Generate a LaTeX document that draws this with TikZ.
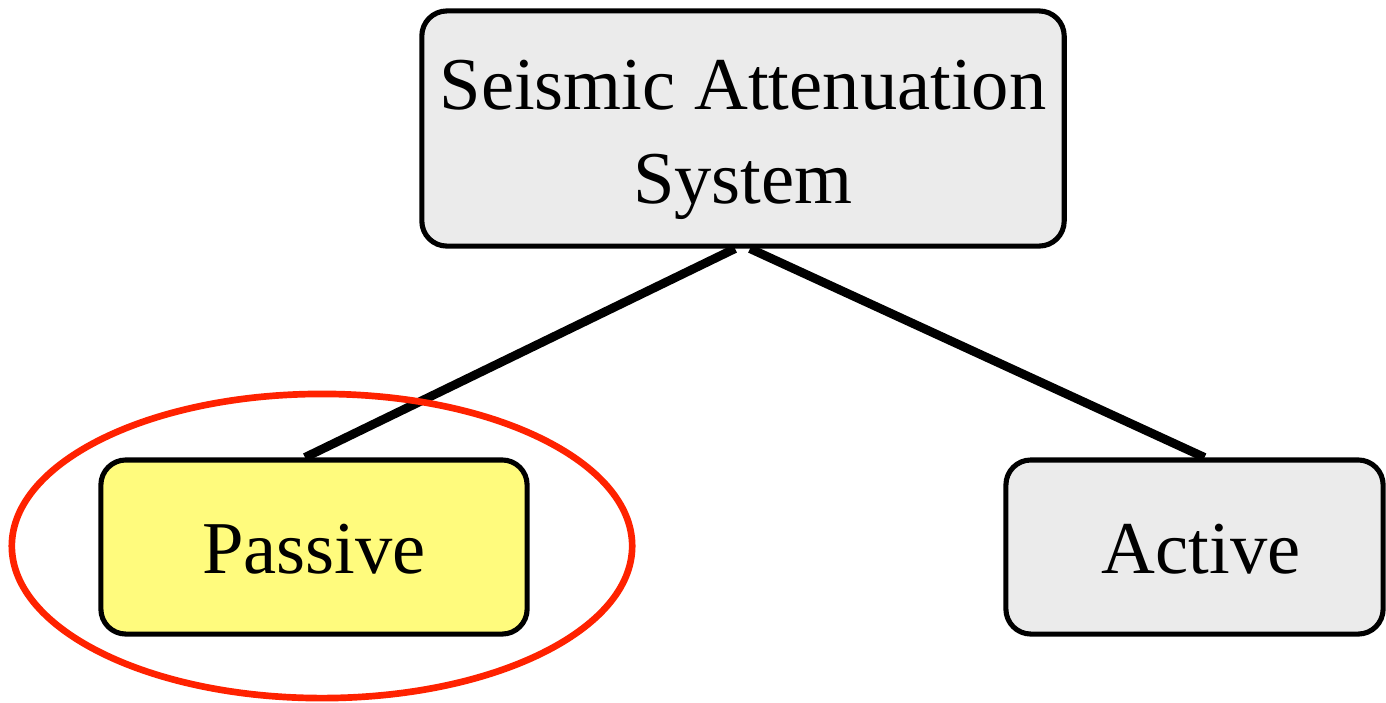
\documentclass[tikz,border=0pt]{standalone}
\usepackage{fontspec}
\setmainfont{Liberation Serif}
\usetikzlibrary{shapes.geometric}
\definecolor{boxgray}{HTML}{EBEBEB}
\definecolor{boxyellow}{HTML}{FFFB7D}
\definecolor{ringred}{HTML}{FF2200}
\begin{document}
\begin{tikzpicture}[x=0.01cm,y=-0.01cm,
  box/.style={draw=black, line width=1.45pt, rounded corners=0.25cm, inner sep=0pt},
  label text/.style={inner sep=0pt, align=center, font=\fontsize{21.2}{26.6}\selectfont},
  link/.style={draw=black, line width=2.5pt}]
\useasboundingbox (0,0) rectangle (1386,702);
\node[box, fill=boxgray, minimum width=6.42cm, minimum height=2.35cm] (top) at (743,128.5) {};
\node[label text] (toptext) at (743,140) {Seismic Attenuation\\System};
\node[box, fill=boxyellow, minimum width=4.26cm, minimum height=1.74cm] (passive) at (314,547) {};
\node[label text] (passivetext) at (314,549) {Passive};
\node[box, fill=boxgray, minimum width=3.77cm, minimum height=1.74cm] (active) at (1194.5,547) {};
\node[label text] (activetext) at (1201,549) {Active};
\draw[link] ([xshift=-0.08cm]top.south) -- ([xshift=-0.09cm]passive.north);
\draw[link] ([xshift=0.07cm]top.south) -- ([xshift=0.1cm]active.north);
\node[draw=ringred, line width=1.9pt, ellipse, minimum width=6.2cm, minimum height=3.04cm, inner sep=0pt] (ring) at (322,546) {};
\end{tikzpicture}
\end{document}
